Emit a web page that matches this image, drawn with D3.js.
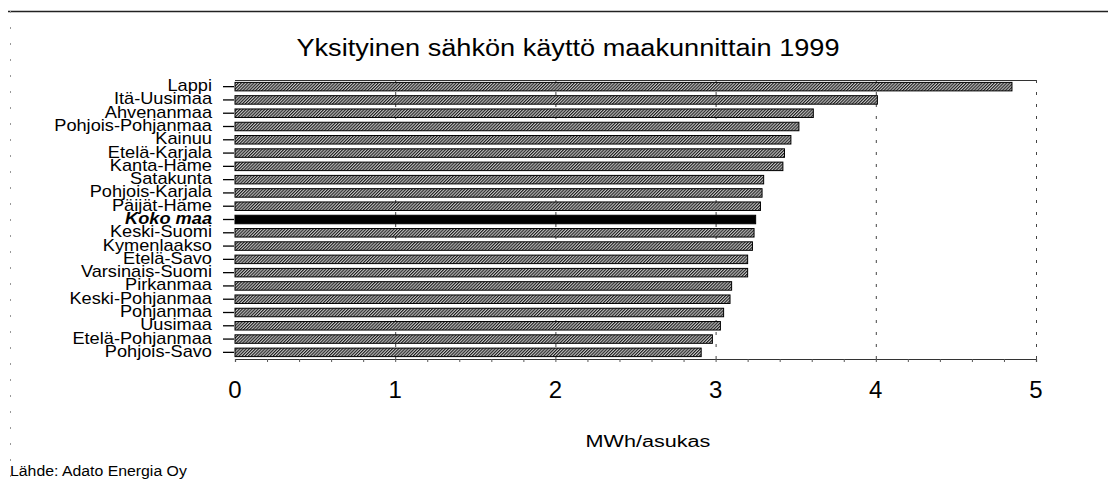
<!DOCTYPE html>
<html><head><meta charset="utf-8">
<script src="https://cdn.jsdelivr.net/npm/d3@7"></script>
<style>body{margin:0;background:#fff}svg{display:block}text{font-family:"Liberation Sans",Arial,sans-serif;fill:#000}</style>
</head><body><svg id="c" width="1108" height="483"></svg>
<script>
const categories = ["Lappi","Itä-Uusimaa","Ahvenanmaa","Pohjois-Pohjanmaa","Kainuu","Etelä-Karjala","Kanta-Häme","Satakunta","Pohjois-Karjala","Päijät-Häme","Koko maa","Keski-Suomi","Kymenlaakso","Etelä-Savo","Varsinais-Suomi","Pirkanmaa","Keski-Pohjanmaa","Pohjanmaa","Uusimaa","Etelä-Pohjanmaa","Pohjois-Savo"];
const values = [4.85,4.01,3.61,3.52,3.47,3.43,3.42,3.30,3.29,3.28,3.25,3.24,3.23,3.20,3.20,3.10,3.09,3.05,3.03,2.98,2.91];
const xTicks = [0,1,2,3,4,5];
const highlight = "Koko maa";
const title = "Yksityinen sähkön käyttö maakunnittain 1999";
const xTitle = "MWh/asukas";
const source = "Lähde: Adato Energia Oy";

const svg = d3.select("#c");
const x = d3.scaleLinear().domain([0,5]).range([235,1036]);
const y = d3.scaleBand().domain(categories).range([80,359]).paddingInner(0.36).paddingOuter(0.18);

function stretch(sel, f){
  sel.each(function(){ const l=this.getComputedTextLength(); d3.select(this).attr("textLength", l*f).attr("lengthAdjust","spacingAndGlyphs"); });
}

// pattern
const defs = svg.append("defs");
const pat = defs.append("pattern").attr("id","hatch").attr("patternUnits","userSpaceOnUse")
  .attr("width",2.2).attr("height",2.2).attr("patternTransform","rotate(45)");
pat.append("rect").attr("width",2.2).attr("height",2.2).attr("fill","#c4c4c4");
pat.append("rect").attr("width",1.1).attr("height",2.2).attr("fill","#202020");

// outer frame
svg.append("line").attr("x1",8).attr("x2",1108).attr("y1",11.5).attr("y2",11.5).attr("stroke","#222").attr("stroke-width",1.3);
svg.append("line").attr("x1",10.5).attr("x2",10.5).attr("y1",11).attr("y2",483).attr("stroke","#999").attr("stroke-width",1).attr("stroke-dasharray","2,14");

// title
svg.append("text").attr("x",568).attr("y",56).attr("text-anchor","middle").attr("font-size",23).text(title).call(stretch,1.18);

// gridlines
svg.append("g").selectAll("line").data(xTicks.filter(d=>d>0)).join("line")
  .attr("x1",d=>x(d)+0.5).attr("x2",d=>x(d)+0.5).attr("y1",80).attr("y2",365)
  .attr("stroke","#444").attr("stroke-width",1).attr("stroke-dasharray","3,9");

// plot top line
svg.append("line").attr("x1",x(0)).attr("x2",x(5)).attr("y1",80.5).attr("y2",80.5).attr("stroke","#333").attr("stroke-width",1);

// bars
svg.append("g").selectAll("rect").data(categories).join("rect")
  .attr("x",x(0)).attr("y",d=>y(d)).attr("height",y.bandwidth())
  .attr("width",(d,i)=>x(values[i])-x(0))
  .attr("fill",d=>d===highlight?"#000":"url(#hatch)")
  .attr("stroke","#000").attr("stroke-width",1);

// y ticks and labels
const yg = svg.append("g");
yg.selectAll("line").data(categories).join("line")
  .attr("x1",223).attr("x2",234).attr("y1",d=>y(d)+y.bandwidth()/2).attr("y2",d=>y(d)+y.bandwidth()/2)
  .attr("stroke","#000").attr("stroke-width",1.3);
yg.selectAll("text").data(categories).join("text")
  .attr("x",212).attr("y",d=>y(d)+y.bandwidth()/2+4.5).attr("text-anchor","end")
  .attr("font-size",17)
  .attr("font-weight",d=>d===highlight?"bold":"normal")
  .attr("font-style",d=>d===highlight?"italic":"normal")
  .text(d=>d).call(stretch,1.07);

// x axis
const xAxis = d3.axisBottom(x).tickValues(d3.range(0,5.01,0.2)).tickSize(3).tickFormat("");
const xg = svg.append("g").attr("transform","translate(0,359)").call(xAxis);
xg.select(".domain").attr("stroke","#333").attr("stroke-width",1.2);
xg.selectAll(".tick line").attr("stroke","#555");
svg.append("g").selectAll("text").data(xTicks).join("text")
  .attr("x",d=>x(d)).attr("y",398).attr("text-anchor","middle").attr("font-size",24).text(d=>d);

svg.append("text").attr("x",648).attr("y",447).attr("text-anchor","middle").attr("font-size",16).text(xTitle).call(stretch,1.35);
svg.append("text").attr("x",10).attr("y",476).attr("font-size",14).text(source).call(stretch,1.13);
</script></body></html>
